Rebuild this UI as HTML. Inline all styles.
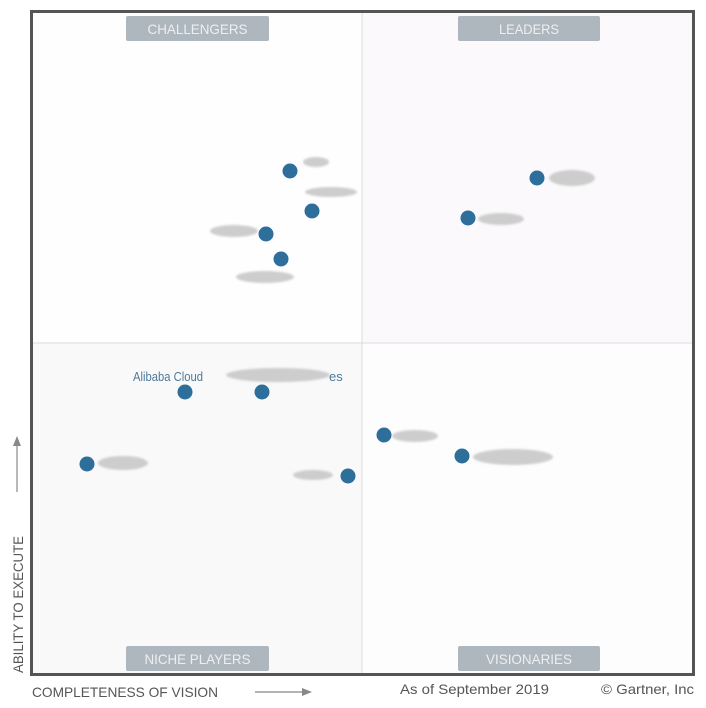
<!DOCTYPE html>
<html><head><meta charset="utf-8"><style>
html,body{margin:0;padding:0;background:#fff;}
svg{display:block;font-family:"Liberation Sans",sans-serif;}
</style></head><body>
<svg width="706" height="708" viewBox="0 0 706 708" xmlns="http://www.w3.org/2000/svg">
<defs><filter id="b" x="-20%" y="-50%" width="140%" height="200%"><feGaussianBlur stdDeviation="1"/></filter></defs>
<rect x="0" y="0" width="706" height="708" fill="#fff"/>
<rect x="32" y="12" width="330" height="331" fill="#fefefe"/>
<rect x="362" y="12" width="331" height="331" fill="#fbf9fb"/>
<rect x="32" y="343" width="330" height="331" fill="#f9f9fa"/>
<rect x="362" y="343" width="331" height="331" fill="#fdfdfd"/>
<line x1="362" y1="12" x2="362" y2="674" stroke="#dcdcdf" stroke-width="1"/>
<line x1="32" y1="343" x2="693" y2="343" stroke="#dcdcdf" stroke-width="1"/>
<rect x="31.5" y="11.5" width="662" height="663" fill="none" stroke="#555" stroke-width="3"/>
<g fill="#aeb6be">
<rect x="126" y="16" width="143" height="25" rx="2"/>
<rect x="458" y="16" width="142" height="25" rx="2"/>
<rect x="126" y="646" width="143" height="25" rx="2"/>
<rect x="458" y="646" width="142" height="25" rx="2"/>
</g>
<g fill="#edf0f2" font-size="14" text-anchor="middle">
<text x="197.5" y="34" textLength="100" lengthAdjust="spacingAndGlyphs">CHALLENGERS</text>
<text x="529" y="34" textLength="60" lengthAdjust="spacingAndGlyphs">LEADERS</text>
<text x="197.5" y="664" textLength="106" lengthAdjust="spacingAndGlyphs">NICHE PLAYERS</text>
<text x="529" y="664" textLength="86" lengthAdjust="spacingAndGlyphs">VISIONARIES</text>
</g>
<g fill="#cdcdcd" filter="url(#b)">
<ellipse cx="316" cy="162" rx="13" ry="5"/>
<ellipse cx="331" cy="192" rx="26" ry="5"/>
<ellipse cx="234" cy="231" rx="24" ry="6"/>
<ellipse cx="265" cy="277" rx="29" ry="6"/>
<ellipse cx="572" cy="178" rx="23" ry="8"/>
<ellipse cx="501" cy="219" rx="23" ry="6"/>
<ellipse cx="278" cy="375" rx="52" ry="7"/>
<ellipse cx="123" cy="463" rx="25" ry="7"/>
<ellipse cx="313" cy="475" rx="20" ry="5"/>
<ellipse cx="415" cy="436" rx="23" ry="6"/>
<ellipse cx="513" cy="457" rx="40" ry="8"/>
</g>
<text x="133" y="381" font-size="13" fill="#4d7a99" textLength="70" lengthAdjust="spacingAndGlyphs">Alibaba Cloud</text>
<text x="329" y="381" font-size="13" fill="#4d7a99">es</text>
<g fill="#2e6e9b">
<circle cx="290" cy="171" r="7.5"/>
<circle cx="312" cy="211" r="7.5"/>
<circle cx="266" cy="234" r="7.5"/>
<circle cx="281" cy="259" r="7.5"/>
<circle cx="537" cy="178" r="7.5"/>
<circle cx="468" cy="218" r="7.5"/>
<circle cx="185" cy="392" r="7.5"/>
<circle cx="262" cy="392" r="7.5"/>
<circle cx="87" cy="464" r="7.5"/>
<circle cx="348" cy="476" r="7.5"/>
<circle cx="384" cy="435" r="7.5"/>
<circle cx="462" cy="456" r="7.5"/>
</g>
<text x="23" y="673" font-size="14" fill="#555" transform="rotate(-90 23 673)" textLength="137" lengthAdjust="spacingAndGlyphs">ABILITY TO EXECUTE</text>
<line x1="17" y1="492" x2="17" y2="440" stroke="#888" stroke-width="1.2"/>
<path d="M13,446 L17,436 L21,446 Z" fill="#888"/>
<text x="32" y="697" font-size="14" fill="#555" textLength="186" lengthAdjust="spacingAndGlyphs">COMPLETENESS OF VISION</text>
<line x1="255" y1="692" x2="306" y2="692" stroke="#888" stroke-width="1.2"/>
<path d="M302,688 L312,692 L302,696 Z" fill="#888"/>
<text x="400" y="694" font-size="14" fill="#555" textLength="149" lengthAdjust="spacingAndGlyphs">As of September 2019</text>
<text x="601" y="694" font-size="14" fill="#555" textLength="93" lengthAdjust="spacingAndGlyphs">© Gartner, Inc</text>
</svg>
</body></html>
